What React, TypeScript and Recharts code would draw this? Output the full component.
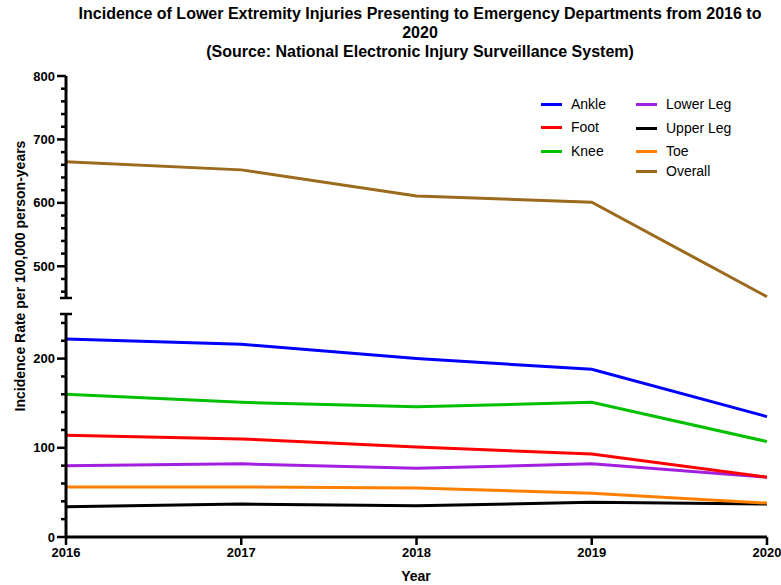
import { LineChart, Line, XAxis, YAxis } from 'recharts';

const years = ['2016', '2017', '2018', '2019', '2020'];
const ankle = [222, 216, 200, 188, 135];
const foot = [114, 110, 101, 93, 67];
const knee = [160, 151, 146, 151, 107];
const lowerLeg = [80, 82, 77, 82, 67];
const upperLeg = [34, 37, 35, 39, 37];
const toe = [56, 56, 55, 49, 38];
const overall = [665, 652, 611, 601, 452];

const upperTicks = [450, 460, 480, 500, 520, 540, 560, 580, 600, 620, 640, 660, 680, 700, 720, 740, 760, 780, 800];
const lowerTicks = [0, 20, 40, 60, 80, 100, 120, 140, 160, 180, 200, 220, 240, 250];

const AXIS_X = 66;
const FONT = '"Liberation Sans", Arial, Helvetica, sans-serif';

const rows = years.map((year, i) => ({
  year,
  ankle: ankle[i],
  foot: foot[i],
  knee: knee[i],
  lowerLeg: lowerLeg[i],
  upperLeg: upperLeg[i],
  toe: toe[i],
  overall: overall[i],
}));

// draw order: later ones sit on top
const lowerSeries = [
  { key: 'upperLeg', color: '#000000' },
  { key: 'lowerLeg', color: '#a21fe0' },
  { key: 'toe', color: '#ff8000' },
  { key: 'foot', color: '#ff0000' },
  { key: 'knee', color: '#00c000' },
  { key: 'ankle', color: '#0000ff' },
];

const legendLeft = [
  { name: 'Ankle', color: '#0000ff' },
  { name: 'Foot', color: '#ff0000' },
  { name: 'Knee', color: '#00c000' },
];
const legendRight = [
  { name: 'Lower Leg', color: '#a21fe0' },
  { name: 'Upper Leg', color: '#000000' },
  { name: 'Toe', color: '#ff8000' },
  { name: 'Overall', color: '#9b6a1c' },
];

const makeYTick = (capValue: number) => (props: any) => {
  const { y, payload } = props;
  const v = payload.value as number;
  const major = v % 100 === 0;
  const cap = v === capValue;
  const x1 = cap ? AXIS_X - 6 : major ? AXIS_X - 9 : AXIS_X - 5;
  const x2 = cap ? AXIS_X + 6 : AXIS_X;
  return (
    <g>
      <line x1={x1} x2={x2} y1={y} y2={y} stroke="#000" strokeWidth={2.5} />
      {major && (
        <text
          x={AXIS_X - 11}
          y={y}
          dy={4.5}
          textAnchor="end"
          fill="#000"
          fontSize={13}
          fontWeight="bold"
          fontFamily={FONT}
        >
          {v}
        </text>
      )}
    </g>
  );
};

function LegendCol({ items, left, rowTops }: { items: { name: string; color: string }[]; left: number; rowTops: number[] }) {
  return (
    <>
      {items.map((it, i) => (
        <div key={it.name} style={{ position: 'absolute', left, top: rowTops[i] - 10, height: 20, display: 'flex', alignItems: 'center' }}>
          <div style={{ width: 21, height: 3, background: it.color }} />
          <span style={{ marginLeft: 9, fontSize: 14, fontFamily: FONT, color: '#000' }}>{it.name}</span>
        </div>
      ))}
    </>
  );
}

export default function App() {
  return (
    <div style={{ position: 'absolute', left: 0, top: 0, width: 781, height: 585, background: '#fff', overflow: 'hidden', fontFamily: FONT }}>
      <div
        style={{
          position: 'absolute',
          left: 40,
          width: 760,
          top: 4,
          textAlign: 'center',
          fontWeight: 'bold',
          fontSize: 16,
          lineHeight: '19px',
          color: '#000',
        }}
      >
        Incidence of Lower Extremity Injuries Presenting to Emergency Departments from 2016 to
        <br />
        2020
        <br />
        (Source: National Electronic Injury Surveillance System)
      </div>

      <div
        style={{
          position: 'absolute',
          left: 20,
          top: 276,
          transform: 'translate(-50%, -50%) rotate(-90deg)',
          whiteSpace: 'nowrap',
          fontWeight: 'bold',
          fontSize: 14,
        }}
      >
        Incidence Rate per 100,000 person-years
      </div>

      {/* upper segment of the broken axis */}
      <div style={{ position: 'absolute', left: 0, top: 60 }}>
        <LineChart width={781} height={250} data={rows} margin={{ top: 16, right: 14, bottom: 12, left: 16 }}>
          <XAxis dataKey="year" hide />
          <YAxis
            width={50}
            domain={[450, 800]}
            ticks={upperTicks}
            interval={0}
            allowDataOverflow
            axisLine={{ stroke: '#000', strokeWidth: 3 }}
            tickLine={false}
            tick={makeYTick(450)}
          />
          <Line type="linear" dataKey="overall" stroke="#9b6a1c" strokeWidth={3} dot={false} isAnimationActive={false} />
        </LineChart>
      </div>

      {/* lower segment */}
      <div style={{ position: 'absolute', left: 0, top: 300 }}>
        <LineChart width={781} height={285} data={rows} margin={{ top: 14, right: 14, bottom: 0, left: 16 }}>
          <XAxis
            dataKey="year"
            height={48}
            axisLine={{ stroke: '#000', strokeWidth: 3 }}
            tickLine={{ stroke: '#000', strokeWidth: 2.5 }}
            tickSize={8}
            tickMargin={3}
            tick={{ fill: '#000', fontSize: 13, fontWeight: 'bold', fontFamily: FONT }}
            interval={0}
          />
          <YAxis
            width={50}
            domain={[0, 250]}
            ticks={lowerTicks}
            interval={0}
            allowDataOverflow
            axisLine={{ stroke: '#000', strokeWidth: 3 }}
            tickLine={false}
            tick={makeYTick(250)}
          />
          {lowerSeries.map((s) => (
            <Line key={s.key} type="linear" dataKey={s.key} stroke={s.color} strokeWidth={3} dot={false} isAnimationActive={false} />
          ))}
        </LineChart>
      </div>

      <div style={{ position: 'absolute', left: 0, width: 832, top: 568, textAlign: 'center', fontWeight: 'bold', fontSize: 14 }}>
        Year
      </div>

      <LegendCol items={legendLeft} left={541} rowTops={[104, 127, 151]} />
      <LegendCol items={legendRight} left={636} rowTops={[104, 128, 151, 171]} />
    </div>
  );
}
